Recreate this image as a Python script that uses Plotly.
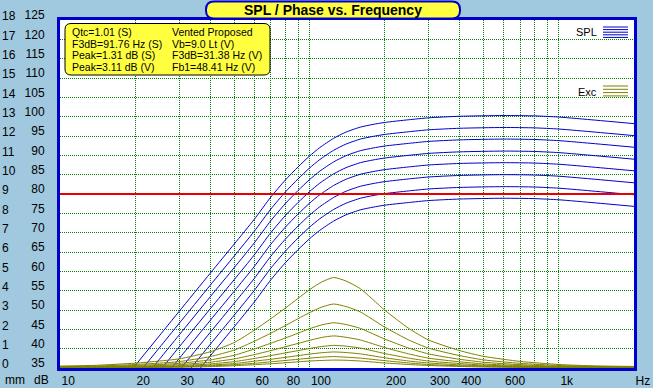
import math
import plotly.graph_objects as go

# ---------------- data ----------------
spl_freq = [20, 25, 30, 40, 50, 60, 70, 80, 90, 100, 110, 125, 140, 160, 180, 200, 250, 300, 400, 600, 800, 1000, 1400, 2000]
spl_1 = [35.6, 43.3, 49.6, 59.5, 67.1, 73.4, 79.2, 83.6, 87.0, 89.8, 92.0, 94.4, 96.0, 97.3, 98.0, 98.5, 99.2, 99.7, 100.1, 100.3, 100.2, 99.9, 99.1, 98.2]
spl_2 = [32.5, 40.2, 46.5, 56.4, 64.0, 70.3, 76.1, 80.5, 83.9, 86.7, 88.9, 91.3, 92.9, 94.2, 94.9, 95.4, 96.1, 96.6, 97.0, 97.2, 97.1, 96.8, 96.0, 95.1]
spl_3 = [29.5, 37.2, 43.5, 53.4, 61.0, 67.3, 73.1, 77.5, 80.9, 83.7, 85.9, 88.3, 89.9, 91.2, 91.9, 92.4, 93.1, 93.6, 94.0, 94.2, 94.1, 93.8, 93.0, 92.1]
spl_4 = [26.4, 34.1, 40.4, 50.3, 57.9, 64.2, 70.0, 74.4, 77.8, 80.6, 82.8, 85.2, 86.8, 88.1, 88.8, 89.3, 90.0, 90.5, 90.9, 91.1, 91.0, 90.7, 89.9, 89.0]
spl_5 = [23.4, 31.1, 37.4, 47.3, 54.9, 61.2, 67.0, 71.4, 74.8, 77.6, 79.8, 82.2, 83.8, 85.1, 85.8, 86.3, 87.0, 87.5, 87.9, 88.1, 88.0, 87.7, 86.9, 86.0]
spl_6 = [20.3, 28.0, 34.3, 44.2, 51.8, 58.1, 63.9, 68.3, 71.7, 74.5, 76.7, 79.1, 80.7, 82.0, 82.7, 83.2, 83.9, 84.4, 84.8, 85.0, 84.9, 84.6, 83.8, 82.9]
spl_7 = [17.2, 24.9, 31.2, 41.1, 48.7, 55.0, 60.8, 65.2, 68.6, 71.4, 73.6, 76.0, 77.6, 78.9, 79.6, 80.1, 80.8, 81.3, 81.7, 81.9, 81.8, 81.5, 80.7, 79.8]
spl_8 = [14.2, 21.9, 28.2, 38.1, 45.7, 52.0, 57.8, 62.2, 65.6, 68.4, 70.6, 73.0, 74.6, 75.9, 76.6, 77.1, 77.8, 78.3, 78.7, 78.9, 78.8, 78.5, 77.7, 76.8]
spl_curves = [spl_1, spl_2, spl_3, spl_4, spl_5, spl_6, spl_7, spl_8]

exc_freq = [10, 14, 20, 25, 30, 40, 50, 60, 70, 80, 90, 100, 112, 125, 140, 160, 200, 250, 300, 400, 500, 700, 1000, 1400, 2000]
exc_1 = [0.10, 0.14, 0.25, 0.36, 0.47, 0.84, 1.32, 1.95, 2.55, 3.10, 3.60, 4.05, 4.45, 4.68, 4.50, 4.10, 3.00, 2.05, 1.45, 0.90, 0.60, 0.34, 0.18, 0.11, 0.08]
exc_2 = [0.07, 0.10, 0.18, 0.25, 0.33, 0.59, 0.93, 1.38, 1.80, 2.19, 2.55, 2.86, 3.15, 3.31, 3.18, 2.90, 2.12, 1.45, 1.03, 0.64, 0.42, 0.24, 0.13, 0.08, 0.06]
exc_3 = [0.05, 0.07, 0.13, 0.18, 0.24, 0.42, 0.66, 0.98, 1.28, 1.55, 1.80, 2.03, 2.23, 2.34, 2.25, 2.05, 1.50, 1.03, 0.73, 0.45, 0.30, 0.17, 0.09, 0.06, 0.04]
exc_4 = [0.04, 0.05, 0.09, 0.13, 0.17, 0.30, 0.47, 0.69, 0.90, 1.10, 1.27, 1.43, 1.58, 1.66, 1.59, 1.45, 1.06, 0.73, 0.51, 0.32, 0.21, 0.12, 0.06, 0.04, 0.03]
exc_5 = [0.03, 0.04, 0.06, 0.09, 0.12, 0.21, 0.33, 0.49, 0.64, 0.78, 0.90, 1.01, 1.11, 1.17, 1.13, 1.03, 0.75, 0.51, 0.36, 0.23, 0.15, 0.09, 0.05, 0.03, 0.02]
exc_6 = [0.02, 0.02, 0.04, 0.06, 0.08, 0.15, 0.23, 0.35, 0.45, 0.55, 0.64, 0.72, 0.79, 0.83, 0.80, 0.73, 0.53, 0.36, 0.26, 0.16, 0.11, 0.06, 0.03, 0.02, 0.01]
exc_7 = [0.01, 0.02, 0.03, 0.05, 0.06, 0.11, 0.17, 0.24, 0.32, 0.39, 0.45, 0.51, 0.56, 0.59, 0.56, 0.51, 0.38, 0.26, 0.18, 0.11, 0.08, 0.04, 0.02, 0.01, 0.01]
exc_8 = [0.01, 0.01, 0.02, 0.03, 0.04, 0.07, 0.12, 0.17, 0.22, 0.27, 0.32, 0.36, 0.39, 0.41, 0.40, 0.36, 0.26, 0.18, 0.13, 0.08, 0.05, 0.03, 0.02, 0.01, 0.01]
exc_curves = [exc_1, exc_2, exc_3, exc_4, exc_5, exc_6, exc_7, exc_8]

ref_level_db = 80
freq_range = [10, 2000]
db_range = [35, 125]
mm_range = [0, 18]

x_tickvals = [10, 20, 30, 40, 50, 60, 70, 80, 90, 100, 200, 300, 400, 500, 600, 700, 800, 900, 1000, 2000]
x_ticktext = ["10", "20", "30", "40", "", "60", "", "80", "", "100", "200", "300", "400", "", "600", "", "", "", "1k", "Hz"]
db_ticks = list(range(35, 130, 5))
mm_ticks = list(range(0, 19))

title_text = "SPL / Phase vs. Frequency"
info_left = ["Qtc=1.01 (S)", "F3dB=91.76 Hz (S)", "Peak=1.31 dB (S)", "Peak=3.11 dB (V)"]
info_right = ["Vented Proposed", "Vb=9.0 Lt (V)", "F3dB=31.38 Hz (V)", "Fb1=48.41 Hz (V)"]

# ---------------- style ----------------
W, H = 653, 388
ML, MR, MT, MB = 60, 19, 20, 20
PW, PH = W - ML - MR, H - MT - MB
BG = "#A0C8DE"
BLUE = "#0000CC"
OLIVE = "#808000"
GRID = "#008000"
YELLOW = "#FFFF40"
FONT = "Liberation Sans, Arial, sans-serif"


def px(x):
    return (x - ML) / PW


def py(y):
    return (H - MB - y) / PH


def rrect(x0, y0, x1, y1, r):
    X0, X1, Yt, Yb = px(x0), px(x1), py(y0), py(y1)
    rx, ry = r / PW, r / PH
    return (f"M {X0+rx},{Yt} L {X1-rx},{Yt} Q {X1},{Yt} {X1},{Yt-ry} "
            f"L {X1},{Yb+ry} Q {X1},{Yb} {X1-rx},{Yb} L {X0+rx},{Yb} "
            f"Q {X0},{Yb} {X0},{Yb+ry} L {X0},{Yt-ry} Q {X0},{Yt} {X0+rx},{Yt} Z")


fig = go.Figure()

for ys in exc_curves:
    fig.add_trace(go.Scatter(x=exc_freq, y=ys, mode="lines", yaxis="y2",
                             line=dict(color=OLIVE, width=1, shape="spline", smoothing=0.6),
                             hoverinfo="skip"))
for ys in spl_curves:
    fig.add_trace(go.Scatter(x=spl_freq, y=ys, mode="lines",
                             line=dict(color=BLUE, width=1, shape="spline", smoothing=0.6),
                             hoverinfo="skip"))
fig.add_trace(go.Scatter(x=freq_range, y=[ref_level_db, ref_level_db], mode="lines",
                         line=dict(color="#E80000", width=2), hoverinfo="skip"))

shapes = []
annotations = []

# title box
shapes.append(dict(type="path", xref="paper", yref="paper", path=rrect(206, 1.5, 460, 18.5, 8),
                   fillcolor=YELLOW, line=dict(color=BLUE, width=2), layer="above"))
annotations.append(dict(x=px(333), y=py(10), xref="paper", yref="paper", text="<b>%s</b>" % title_text,
                        showarrow=False, xanchor="center", yanchor="middle",
                        font=dict(family=FONT, size=14, color="black")))

# info box
shapes.append(dict(type="path", xref="paper", yref="paper", path=rrect(65, 23.5, 270, 75, 6),
                   fillcolor=YELLOW, line=dict(color="black", width=1), layer="above"))
for i, (a, b) in enumerate(zip(info_left, info_right)):
    yy = py(32 + i * 11.6)
    annotations.append(dict(x=px(70), y=yy, xref="paper", yref="paper", text=a, showarrow=False,
                            xanchor="left", yanchor="middle", font=dict(family=FONT, size=10.5, color="black")))
    annotations.append(dict(x=px(170), y=yy, xref="paper", yref="paper", text=b, showarrow=False,
                            xanchor="left", yanchor="middle", font=dict(family=FONT, size=10.5, color="black")))

# legend glyphs
annotations.append(dict(x=px(599), y=py(31.5), xref="paper", yref="paper", text="SPL", showarrow=False,
                        xanchor="right", yanchor="middle", font=dict(family=FONT, size=11, color="black")))
for yy in [27, 29.6, 32.2, 34.8, 37.4]:
    shapes.append(dict(type="line", xref="paper", yref="paper", x0=px(603), x1=px(628), y0=py(yy), y1=py(yy),
                       line=dict(color=BLUE, width=1)))
annotations.append(dict(x=px(599), y=py(91.5), xref="paper", yref="paper", text="Exc", showarrow=False,
                        xanchor="right", yanchor="middle", font=dict(family=FONT, size=11, color="black")))
for yy in [86, 89.3, 92.6, 95.9]:
    shapes.append(dict(type="line", xref="paper", yref="paper", x0=px(603), x1=px(628), y0=py(yy), y1=py(yy),
                       line=dict(color=OLIVE, width=1)))

# unit labels
annotations.append(dict(x=px(3), y=py(380), xref="paper", yref="paper", text="mm", showarrow=False,
                        xanchor="left", yanchor="middle", font=dict(family=FONT, size=12, color="black")))
annotations.append(dict(x=px(32), y=py(380), xref="paper", yref="paper", text="dB", showarrow=False,
                        xanchor="left", yanchor="middle", font=dict(family=FONT, size=12, color="black")))

tickfont = dict(family=FONT, size=12, color="black")
GRIDDASH = "1px,1px"

fig.update_layout(
    width=W, height=H,
    margin=dict(l=ML, r=MR, t=MT, b=MB, pad=0, autoexpand=False),
    paper_bgcolor=BG, plot_bgcolor="white",
    showlegend=False,
    shapes=shapes, annotations=annotations,
    xaxis=dict(type="log", range=[math.log10(freq_range[0]), math.log10(freq_range[1])],
               tickvals=x_tickvals, ticktext=x_ticktext, ticks="", tickangle=0, automargin=False,
               ticklabelposition="outside right", tickfont=tickfont,
               showgrid=True, gridcolor=GRID, gridwidth=1, griddash=GRIDDASH,
               showline=True, linecolor=BLUE, linewidth=3, mirror=True, zeroline=False),
    yaxis=dict(range=db_range, tickvals=db_ticks, ticks="", tickfont=tickfont, automargin=False,
               ticklabelshift=-5, ticklabelstandoff=10,
               showgrid=True, gridcolor=GRID, gridwidth=1, griddash=GRIDDASH,
               showline=True, linecolor=BLUE, linewidth=3, mirror=True, zeroline=False),
    yaxis2=dict(range=mm_range, tickvals=mm_ticks, ticks="", tickfont=tickfont, automargin=False,
                overlaying="y", anchor="free", position=0, side="right", autoshift=False,
                shift=-59, ticklabelshift=-4, ticklabelstandoff=0,
                showgrid=False, showline=False, zeroline=False),
)

fig.write_html("out.html", config={"displayModeBar": False},
               post_script="document.body.style.margin='0px';")
